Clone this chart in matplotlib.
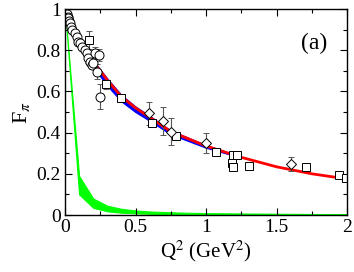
import matplotlib.pyplot as plt
from matplotlib.ticker import MultipleLocator

plt.rcParams['font.family'] = ['Liberation Serif', 'DejaVu Serif']
plt.rcParams['mathtext.fontset'] = 'stix'

# data, low Q^2 (circles)
circ_x = [0.012, 0.019, 0.024, 0.031, 0.035, 0.043, 0.052, 0.071, 0.087, 0.094,
          0.106, 0.118, 0.142, 0.154, 0.165, 0.177, 0.189, 0.196, 0.213, 0.241,
          0.225, 0.248]
circ_y = [0.976, 0.963, 0.955, 0.943, 0.930, 0.914, 0.898, 0.882, 0.866, 0.841,
          0.833, 0.817, 0.800, 0.785, 0.760, 0.744, 0.728, 0.740, 0.785, 0.777,
          0.696, 0.574]
circ_err = [0.005, 0.005, 0.005, 0.006, 0.006, 0.007, 0.007, 0.008, 0.01, 0.01,
            0.012, 0.012, 0.015, 0.015, 0.02, 0.02, 0.02, 0.025, 0.03, 0.03,
            0.035, 0.06]

# squares
sq_x = [0.172, 0.289, 0.397, 0.615, 0.787, 1.071, 1.194, 1.218, 1.182, 1.189,
        1.307, 1.709, 1.943, 1.99]
sq_y = [0.850, 0.634, 0.566, 0.445, 0.383, 0.304, 0.291, 0.291, 0.254, 0.231,
        0.239, 0.235, 0.194, 0.178]
sq_err = [0.045, 0.02, 0.01, 0.012, 0.012, 0.01, 0.015, 0.02, 0.015, 0.012,
          0.01, 0.015, 0.02, 0.012]

# diamonds
dm_x = [0.598, 0.697, 0.750, 1.000, 1.600]
dm_y = [0.494, 0.456, 0.405, 0.348, 0.248]
dm_err = [0.055, 0.07, 0.066, 0.048, 0.035]

# red curve
red_x = [0.0, 0.1, 0.2, 0.3, 0.4, 0.5, 0.6, 0.75, 1.0, 1.25, 1.5, 1.75, 2.0]
red_y = [1.0, 0.86, 0.745, 0.655, 0.575, 0.52, 0.475, 0.405, 0.335, 0.28, 0.234, 0.20, 0.175]

# blue band
blue_x = [0.21, 0.3, 0.4, 0.5, 0.6, 0.75, 1.0, 1.2]
blue_lo = [0.71, 0.628, 0.552, 0.5, 0.458, 0.392, 0.327, 0.288]
blue_hi = [0.74, 0.662, 0.582, 0.526, 0.481, 0.41, 0.339, 0.293]

# green band
grn_x = [0.0, 0.1, 0.2, 0.3, 0.4, 0.5, 0.6, 0.8, 1.0, 1.5, 2.0]
grn_hi = [1.0, 0.19, 0.08, 0.045, 0.03, 0.022, 0.017, 0.012, 0.009, 0.006, 0.004]
grn_lo = [1.0, 0.10, 0.035, 0.018, 0.011, 0.008, 0.006, 0.004, 0.003, 0.002, 0.001]

fig = plt.figure(figsize=(3.54, 2.72), dpi=100)
ax = fig.add_axes([65 / 354, 57 / 272, 282 / 354, 206 / 272])

ax.fill_between(grn_x, grn_lo, grn_hi, color='#00ff00', lw=0.8, edgecolor='#00ff00')
ax.fill_between(blue_x, blue_lo, blue_hi, color='#0000ff', lw=1.0, edgecolor='#0000ff')
ax.plot(red_x, red_y, color='red', lw=2.0)

eb = dict(ecolor='#555555', elinewidth=0.8, capsize=2.5, capthick=0.8,
          mfc='white', mec='black', mew=0.7, ls='none')
ax.errorbar(circ_x, circ_y, yerr=circ_err, fmt='o', ms=6.5, **eb)
ax.errorbar(sq_x, sq_y, yerr=sq_err, fmt='s', ms=6, **eb)
ax.errorbar(dm_x, dm_y, yerr=dm_err, fmt='D', ms=5, **eb)

ax.set_xlim(0, 2)
ax.set_ylim(0, 1)
ax.xaxis.set_major_locator(MultipleLocator(0.5))
ax.xaxis.set_minor_locator(MultipleLocator(0.25))
ax.yaxis.set_major_locator(MultipleLocator(0.2))
ax.yaxis.set_minor_locator(MultipleLocator(0.1))
ax.set_xticks([0, 0.5, 1, 1.5, 2], ['0', '0.5', '1', '1.5', '2'])
ax.set_yticks([0, 0.2, 0.4, 0.6, 0.8, 1.0], ['0', '0.2', '0.4', '0.6', '0.8', '1'])
ax.tick_params(which='both', direction='in', top=True, right=True, labelsize=14, width=0.8)
ax.tick_params(which='major', length=5, pad=3)
ax.tick_params(which='minor', length=3)
for s in ax.spines.values():
    s.set_linewidth(1.0)

ax.set_xlabel(r'Q$^2$ (GeV$^2$)', fontsize=15, labelpad=2)
ax.set_ylabel(r'F$_\pi$', fontsize=16, labelpad=3)
ax.text(0.93, 0.835, '(a)', transform=ax.transAxes, fontsize=17, ha='right', va='center')

fig.savefig('out.png', dpi=100)
